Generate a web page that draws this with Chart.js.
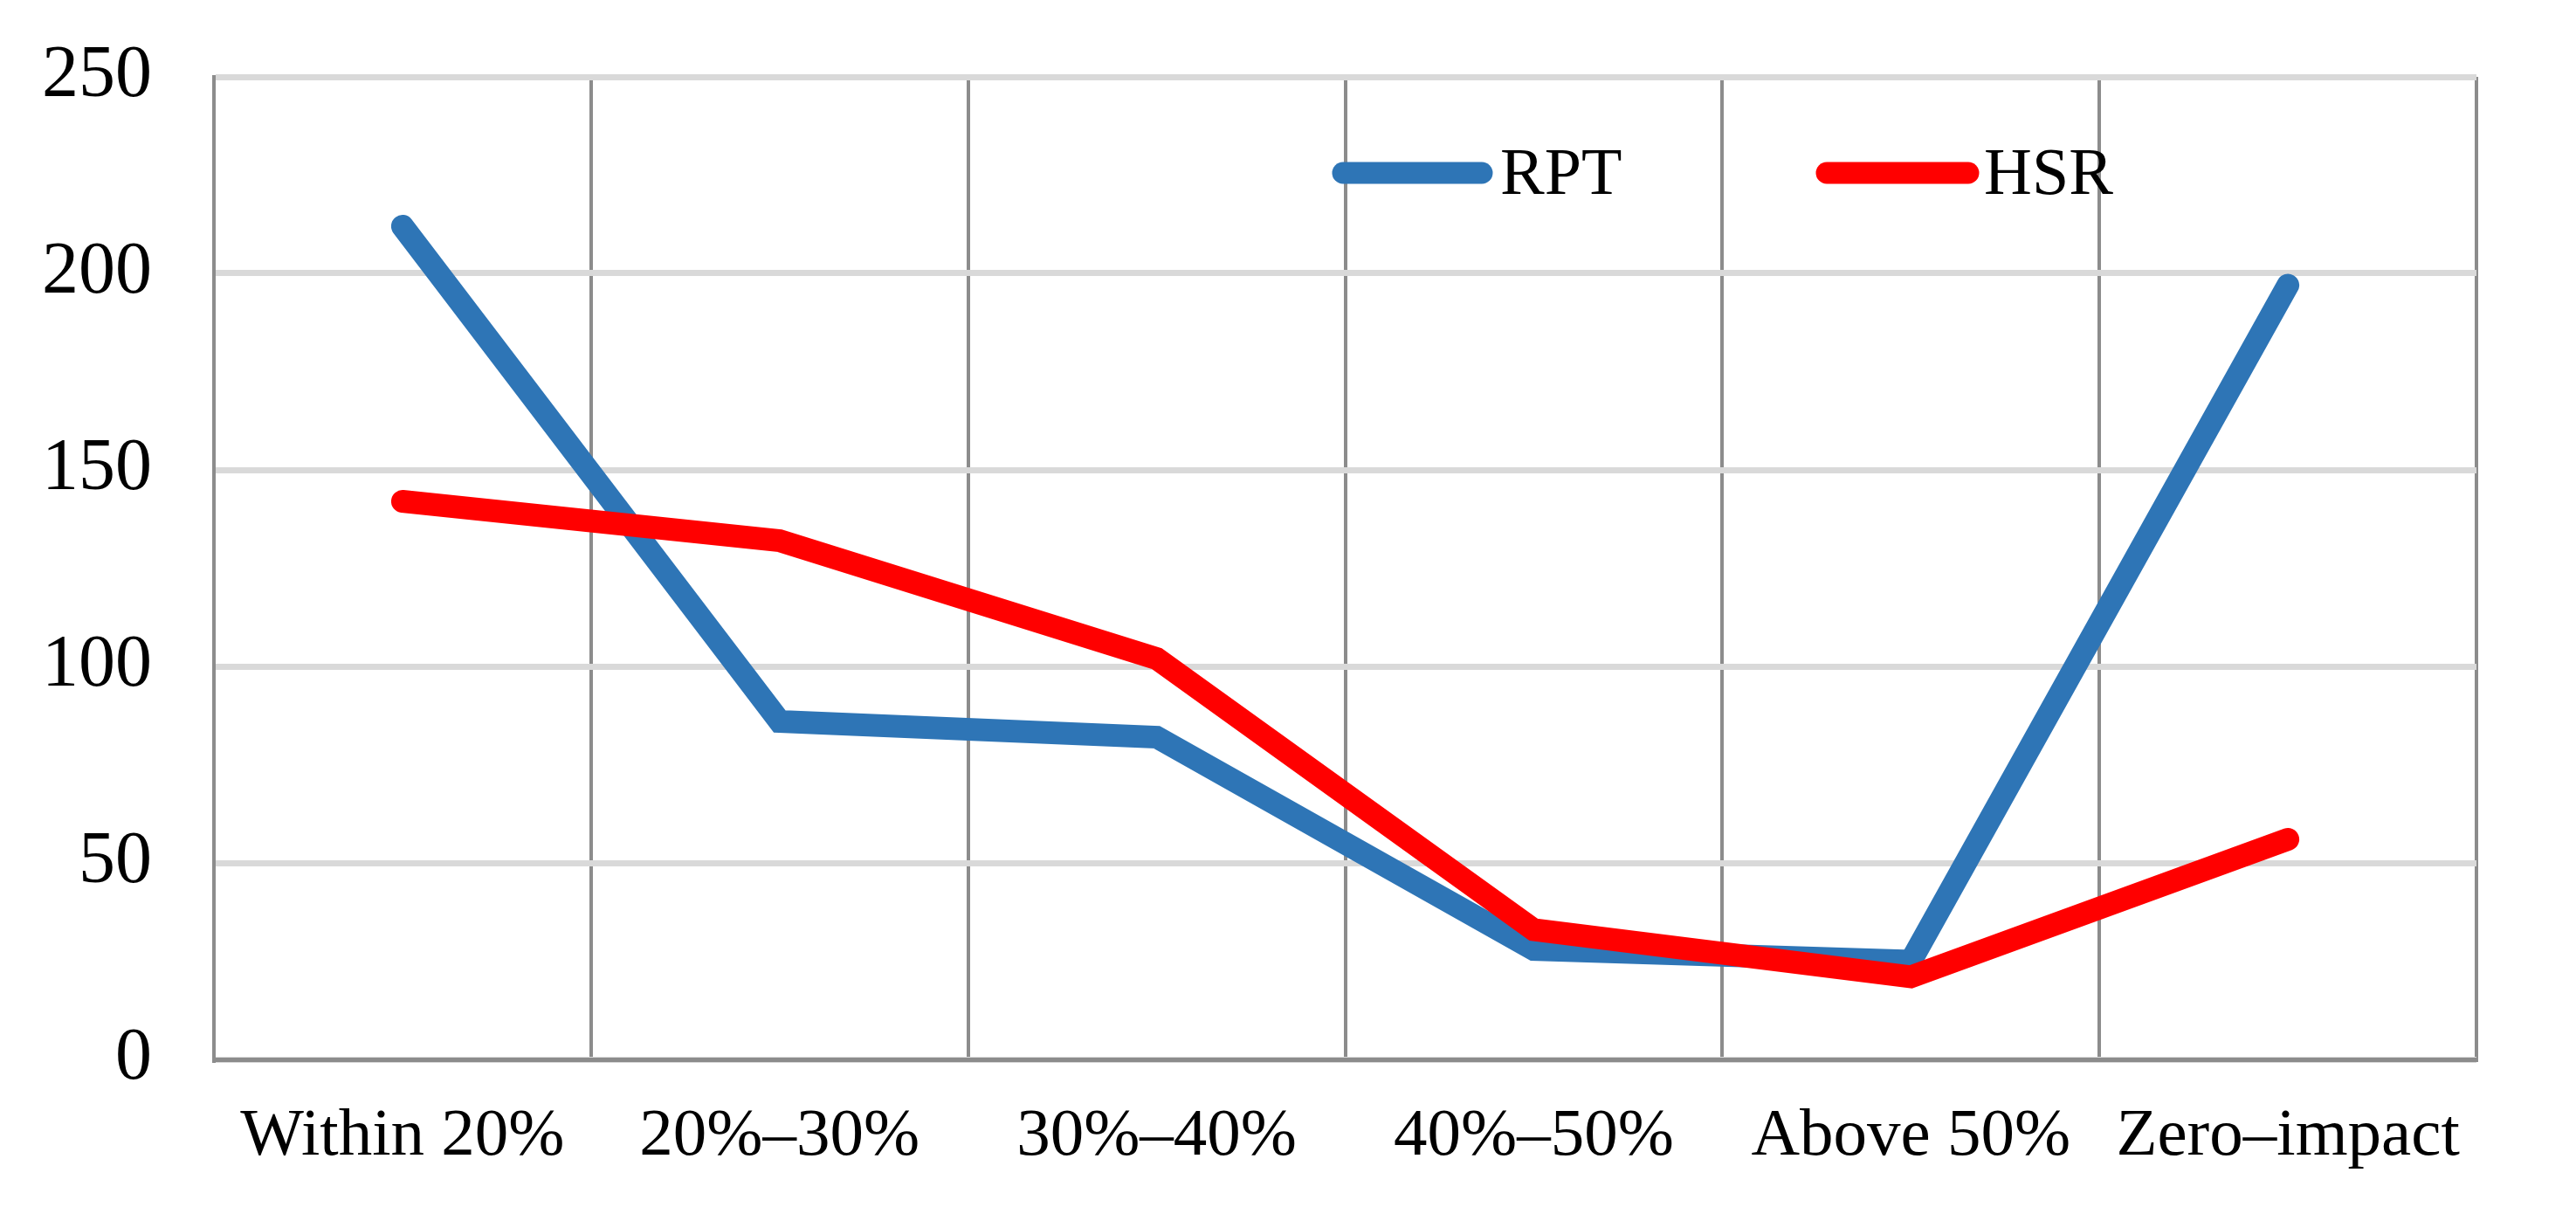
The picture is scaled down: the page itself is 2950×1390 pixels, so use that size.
<!DOCTYPE html>
<html><head><meta charset="utf-8">
<script src="https://cdn.jsdelivr.net/npm/chart.js@4"></script>
<style>html,body{margin:0;padding:0;background:#fff;} #wrap{width:2950px;height:1390px;position:relative}</style>
</head><body><div id="wrap"><canvas id="c" width="2950" height="1390"></canvas></div>
<script>
const categories = ['Within 20%', '20%–30%', '30%–40%', '40%–50%', 'Above 50%', 'Zero–impact'];
const rptValues = [212, 86, 82, 28, 25, 197];
const hsrValues = [142, 132, 102, 33, 21, 56];
const seriesNames = ['RPT', 'HSR'];
const seriesColors = ['#2E75B6', '#FF0000'];
const yMin = 0, yMax = 250, yStep = 50;

const FONT = "'Liberation Serif', 'Times New Roman', serif";

const insideLegend = {
  id: 'insideLegend',
  afterDraw(chart) {
    const ctx = chart.ctx;
    const items = [
      {x1: 1538, x2: 1697, tx: 1718},
      {x1: 2092, x2: 2254, tx: 2272}
    ];
    ctx.save();
    chart.data.datasets.forEach((ds, i) => {
      const it = items[i];
      ctx.strokeStyle = ds.borderColor;
      ctx.lineWidth = 25;
      ctx.lineCap = 'round';
      ctx.beginPath();
      ctx.moveTo(it.x1, 198);
      ctx.lineTo(it.x2, 198);
      ctx.stroke();
      ctx.fillStyle = '#000';
      ctx.font = '76px ' + FONT;
      ctx.textBaseline = 'alphabetic';
      ctx.textAlign = 'left';
      ctx.fillText(ds.label, it.tx, 222);
    });
    ctx.restore();
  }
};

new Chart(document.getElementById('c'), {
  type: 'line',
  data: {
    labels: categories,
    datasets: [
      {label: seriesNames[0], data: rptValues, borderColor: seriesColors[0], backgroundColor: seriesColors[0],
       borderWidth: 26, pointRadius: 0, borderCapStyle: 'round', borderJoinStyle: 'miter', tension: 0, order: 1},
      {label: seriesNames[1], data: hsrValues, borderColor: seriesColors[1], backgroundColor: seriesColors[1],
       borderWidth: 26, pointRadius: 0, borderCapStyle: 'round', borderJoinStyle: 'miter', tension: 0, order: 0}
    ]
  },
  options: {
    responsive: false,
    animation: false,
    devicePixelRatio: 1,
    layout: {padding: {left: 0, right: 114, top: 88, bottom: 0}},
    plugins: {legend: {display: false}, tooltip: {enabled: false}},
    scales: {
      x: {
        type: 'category',
        offset: true,
        grid: {offset: true, color: '#8c8c8c', lineWidth: 4, drawTicks: false},
        border: {color: '#8c8c8c', width: 5},
        ticks: {font: {family: FONT, size: 77}, color: '#000', padding: 43, maxRotation: 0, autoSkip: false},
        afterFit: s => { s.height = 177; }
      },
      y: {
        min: yMin, max: yMax,
        grid: {color: '#d9d9d9', lineWidth: 7, drawTicks: true, tickLength: 69, tickColor: 'rgba(0,0,0,0)'},
        border: {color: '#8c8c8c', width: 4},
        ticks: {stepSize: yStep, font: {family: FONT, size: 84}, color: '#000', padding: 2},
        afterFit: s => { s.width = 245; }
      }
    }
  },
  plugins: [insideLegend]
});
</script>
</body></html>
